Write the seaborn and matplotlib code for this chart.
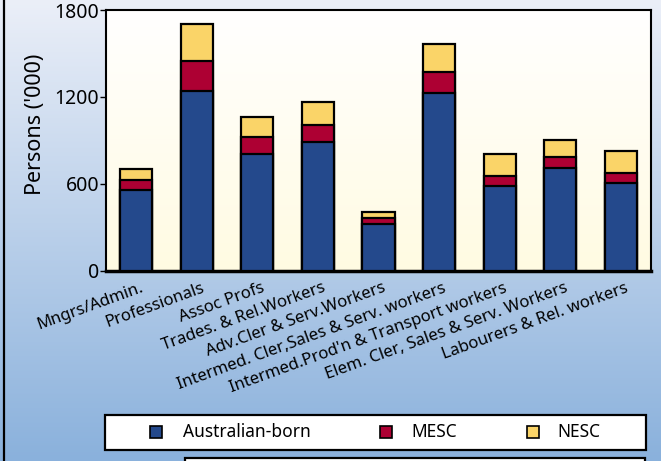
import numpy as np
import pandas as pd
import matplotlib
matplotlib.use("Agg")
import matplotlib.pyplot as plt
import seaborn as sns
from matplotlib.patches import Rectangle
from matplotlib.lines import Line2D
from matplotlib.colors import LinearSegmentedColormap
from matplotlib.transforms import ScaledTranslation

# Employed persons by occupation and birthplace ('000)
occupations = [
    "Mngrs/Admin.",
    "Professionals",
    "Assoc Profs",
    "Trades. & Rel.Workers",
    "Adv.Cler & Serv.Workers",
    "Intermed. Cler,Sales & Serv. workers",
    "Intermed.Prod'n & Transport workers",
    "Elem. Cler, Sales & Serv. Workers",
    "Labourers & Rel. workers",
]
australian_born = [555, 1238, 804, 890, 320, 1224, 585, 710, 608]
mesc = [72, 208, 118, 112, 44, 148, 69, 71, 69]
nesc = [76, 260, 139, 164, 41, 194, 150, 118, 152]

series_names = ["Australian-born", "MESC", "NESC"]
series_colors = ["#24498C", "#AD0033", "#FAD468"]
y_ticks = [0, 600, 1200, 1800]

sns.set_theme(style="white")
plt.rcParams["font.family"] = ["Noto Sans", "DejaVu Sans"]

df = pd.DataFrame({
    "occupation": occupations,
    "Australian-born": australian_born,
    "MESC": mesc,
    "NESC": nesc,
})
# cumulative heights for the stacked layers
df["lvl1"] = df["Australian-born"]
df["lvl2"] = df["lvl1"] + df["MESC"]
df["lvl3"] = df["lvl2"] + df["NESC"]

W, H = 661, 461
fig = plt.figure(figsize=(W / 100, H / 100), dpi=100)

# page background: pale lavender fading to blue
bg = fig.add_axes([0, 0, 1, 1], zorder=-10)
grad = np.linspace(0, 1, 256).reshape(-1, 1)
bg.imshow(grad, aspect="auto", origin="upper", extent=[0, 1, 0, 1],
          cmap=LinearSegmentedColormap.from_list("page", ["#EBEFF8", "#8AB1DC"]))
bg.set_axis_off()

ax = fig.add_axes([106 / W, 1 - 270.5 / H, 545 / W, 260.5 / H])

# draw the stacks from the tallest layer down so each segment shows
for col, color in zip(["lvl3", "lvl2", "lvl1"], series_colors[::-1]):
    sns.barplot(data=df, x="occupation", y=col, color=color, saturation=1,
                width=0.53, edgecolor="black", linewidth=1.6, ax=ax, zorder=3)

# plot area: white to cream
ax.imshow(grad, aspect="auto", origin="upper", extent=[-0.5, 8.5, 0, 1800],
          cmap=LinearSegmentedColormap.from_list("plot", ["#FFFFFF", "#FFFBE2"]),
          zorder=0)
ax.set_xlim(-0.5, 8.5)
ax.set_ylim(0, 1800)
ax.set_yticks(y_ticks)
ax.set_yticklabels([str(t) for t in y_ticks])
ax.tick_params(axis="y", left=True, length=4, width=1, direction="out",
               labelsize=14, pad=1, colors="black")
ax.tick_params(axis="x", bottom=False, length=0, pad=4)
ax.set_xticks(range(len(occupations)))
ax.set_xticklabels(occupations, rotation=20, ha="right", rotation_mode="anchor",
                   fontsize=12, color="black")
# nudge the slanted category labels slightly right and down
nudge = ScaledTranslation(4 / 100, -4 / 100, fig.dpi_scale_trans)
for lbl in ax.get_xticklabels():
    lbl.set_transform(lbl.get_transform() + nudge)
ax.set_xlabel("")
ax.set_ylabel("Persons ('000)", fontsize=15.5, color="black")
ax.yaxis.set_label_coords(-0.11, 0.56)
for side, sp in ax.spines.items():
    sp.set_visible(True)
    sp.set_color("black")
    sp.set_linewidth(1.5)
ax.spines["bottom"].set_linewidth(2.5)

# legend strip
fig.add_artist(Rectangle((105 / W, 1 - 450 / H), 541 / W, 35 / H,
                         transform=fig.transFigure, facecolor="white",
                         edgecolor="black", linewidth=1.6))
sq_x = [150, 380, 527]
txt_x = [183, 411, 557]
yc = 432
for name, color, sx, tx in zip(series_names, series_colors, sq_x, txt_x):
    fig.add_artist(Rectangle((sx / W, 1 - (yc + 6) / H), 12 / W, 12 / H,
                             transform=fig.transFigure, facecolor=color,
                             edgecolor="black", linewidth=1.2))
    fig.text(tx / W, 1 - yc / H, name, fontsize=12.5, va="center", ha="left",
             color="black")

# lower panel edge and page border
fig.add_artist(Rectangle((185 / W, -0.05), 460 / W, 0.05 + 3 / H,
                         transform=fig.transFigure, facecolor="white",
                         edgecolor="black", linewidth=1.6))
fig.add_artist(Line2D([3.5 / W, 3.5 / W], [0, 1], transform=fig.transFigure,
                      color="black", linewidth=1.6))

fig.savefig("out.png", dpi=100)
